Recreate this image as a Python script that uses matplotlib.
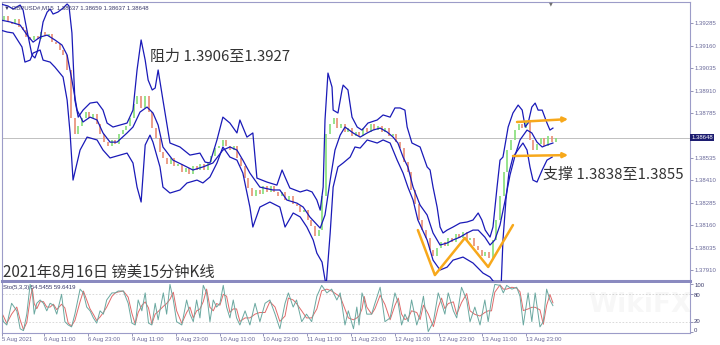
import numpy as np
import pandas as pd
import matplotlib
matplotlib.use("Agg")
import matplotlib.pyplot as plt

# GBPUSD M15 screenshot
# time unit: hours from the left edge of the chart

# one close per hour (candles drawn from previous close to close)
closes = [
    1.39302, 1.39324, 1.39291, 1.39280, 1.39307, 1.39263, 1.39246, 1.39207, 1.39191, 1.39213,
    1.39196, 1.39235, 1.39213, 1.39224, 1.39179, 1.39168, 1.39135, 1.39107, 1.39024, 1.38757,
    1.38668, 1.38712, 1.38757, 1.38790, 1.38757, 1.38779, 1.38724, 1.38668, 1.38623, 1.38601,
    1.38635, 1.38612, 1.38668, 1.38690, 1.38712, 1.38757, 1.38835, 1.38879, 1.38813, 1.38879,
    1.38790, 1.38701, 1.38646, 1.38568, 1.38535, 1.38501, 1.38535, 1.38490, 1.38501, 1.38457,
    1.38479, 1.38446, 1.38490, 1.38468, 1.38501, 1.38468, 1.38512, 1.38546, 1.38590, 1.38601,
    1.38635, 1.38601, 1.38579, 1.38601, 1.38535, 1.38490, 1.38423, 1.38368, 1.38323, 1.38357,
    1.38334, 1.38379, 1.38345, 1.38379, 1.38345, 1.38323, 1.38345, 1.38301, 1.38323, 1.38279,
    1.38268, 1.38234, 1.38245, 1.38190, 1.38156, 1.38101, 1.38134, 1.38323, 1.38668, 1.38724,
    1.38757, 1.38701, 1.38724, 1.38679, 1.38701, 1.38657, 1.38679, 1.38657, 1.38701, 1.38679,
    1.38724, 1.38690, 1.38712, 1.38679, 1.38701, 1.38657, 1.38668, 1.38623, 1.38590, 1.38512,
    1.38457, 1.38357, 1.38279, 1.38190, 1.38134, 1.38090, 1.38023, 1.37990, 1.38034, 1.38067,
    1.38045, 1.38090, 1.38067, 1.38112, 1.38090, 1.38123, 1.38079, 1.38090, 1.38045, 1.38023,
    1.37990, 1.38012, 1.37979, 1.38079, 1.38190, 1.38323, 1.38457, 1.38579, 1.38635, 1.38690,
    1.38724, 1.38701, 1.38735, 1.38635, 1.38579, 1.38612, 1.38646, 1.38601, 1.38657, 1.38623,
    1.38648,
]

# Bollinger bands (hour, price)
upper_band = [
    (0, 1.39391), (2.0, 1.39380), (3.4, 1.39363), (5.3, 1.39385), (6.1, 1.39357), (6.6, 1.39302),
    (7.4, 1.39218), (8.5, 1.39107), (9.3, 1.39091), (9.9, 1.39124), (10.7, 1.39191), (11.5, 1.39291),
    (12.6, 1.39346), (13.4, 1.39363), (14.2, 1.39335), (15.5, 1.39346), (16.9, 1.39368), (18.0, 1.39391),
    (18.5, 1.39380), (19.3, 1.39230), (20.1, 1.38857), (21.0, 1.38762), (22.3, 1.38801), (24.2, 1.38840),
    (26.1, 1.38846), (27.7, 1.38801), (28.8, 1.38729), (30.4, 1.38707), (32.3, 1.38718), (34.2, 1.38729),
    (35.8, 1.38801), (36.9, 1.39024), (38.0, 1.39191), (39.1, 1.39079), (39.9, 1.38968), (41.0, 1.38913),
    (41.8, 1.38924), (42.6, 1.39024), (43.9, 1.38857), (45.8, 1.38618), (48.5, 1.38596), (51.2, 1.38551),
    (53.9, 1.38562), (55.3, 1.38512), (56.6, 1.38507), (58.5, 1.38635), (60.1, 1.38762), (62.0, 1.38729),
    (63.9, 1.38674), (64.7, 1.38746), (66.6, 1.38651), (68.2, 1.38674), (69.3, 1.38423), (72.0, 1.38401),
    (74.7, 1.38384), (76.1, 1.38468), (76.9, 1.38429), (78.2, 1.38368), (81.0, 1.38346), (82.8, 1.38357),
    (84.2, 1.38346), (85.5, 1.38301), (86.4, 1.38245), (87.2, 1.38373), (87.7, 1.38746), (88.5, 1.39007),
    (89.6, 1.38929), (89.9, 1.38801), (91.2, 1.38785), (92.3, 1.38913), (92.6, 1.38940), (93.9, 1.38913),
    (95.0, 1.38762), (96.4, 1.38707), (97.7, 1.38690), (99.3, 1.38729), (101.8, 1.38746), (103.4, 1.38774),
    (105.3, 1.38762), (106.6, 1.38813), (108.0, 1.38813), (109.3, 1.38801), (109.9, 1.38707), (111.2, 1.38618),
    (113.4, 1.38596), (115.3, 1.38485), (116.1, 1.38468), (116.9, 1.38373), (118.0, 1.38262), (118.8, 1.38151),
    (119.6, 1.38118), (120.7, 1.38134), (122.3, 1.38151), (124.2, 1.38173), (126.1, 1.38179), (127.7, 1.38190),
    (129.1, 1.38229), (130.1, 1.38190), (131.0, 1.38134), (132.3, 1.38095), (133.1, 1.38151), (134.2, 1.38373),
    (135.0, 1.38523), (135.8, 1.38540), (137.2, 1.38707), (138.5, 1.38785), (139.9, 1.38829), (141.0, 1.38801),
    (141.8, 1.38707), (142.6, 1.38729), (143.6, 1.38818), (144.5, 1.38840), (145.3, 1.38801), (146.4, 1.38801),
    (147.7, 1.38729), (148.5, 1.38690), (149.3, 1.38701),
]

mid_line = [
    (0, 1.39302), (2.6, 1.39291), (5.3, 1.39274), (7.2, 1.39218), (8.8, 1.39179), (10.7, 1.39207),
    (12.6, 1.39218), (14.7, 1.39191), (16.6, 1.39163), (18.0, 1.39107), (19.3, 1.38968), (20.7, 1.38801),
    (22.3, 1.38735), (24.2, 1.38762), (26.1, 1.38746), (27.7, 1.38674), (29.6, 1.38623), (31.5, 1.38623),
    (34.2, 1.38674), (35.8, 1.38707), (37.7, 1.38790), (39.6, 1.38818), (41.2, 1.38785), (42.6, 1.38718),
    (43.9, 1.38596), (46.6, 1.38523), (49.3, 1.38496), (52.0, 1.38468), (54.7, 1.38485), (57.4, 1.38507),
    (60.1, 1.38579), (62.0, 1.38596), (63.9, 1.38579), (65.5, 1.38523), (67.4, 1.38451), (70.1, 1.38373),
    (73.6, 1.38357), (75.5, 1.38357), (77.4, 1.38301), (80.1, 1.38284), (81.8, 1.38262), (83.6, 1.38207),
    (86.4, 1.38145), (87.7, 1.38218), (89.1, 1.38412), (90.4, 1.38579), (91.8, 1.38662), (93.1, 1.38707),
    (95.3, 1.38674), (97.2, 1.38651), (99.1, 1.38674), (100.7, 1.38690), (102.6, 1.38701), (104.5, 1.38679),
    (106.1, 1.38651), (107.4, 1.38618), (108.8, 1.38540), (110.1, 1.38485), (111.5, 1.38373), (113.4, 1.38273),
    (115.3, 1.38218), (116.9, 1.38118), (118.8, 1.38051), (120.7, 1.38062), (122.3, 1.38079), (124.2, 1.38095),
    (126.1, 1.38118), (127.7, 1.38134), (129.1, 1.38134), (130.9, 1.38095), (132.3, 1.38051), (133.6, 1.38079),
    (135.0, 1.38162), (136.4, 1.38301), (137.7, 1.38440), (139.1, 1.38551), (140.4, 1.38635), (142.3, 1.38690),
    (143.6, 1.38674), (145.0, 1.38623), (146.4, 1.38596), (147.7, 1.38607), (149.3, 1.38618),
]

lower_band = [
    (0, 1.39246), (1.8, 1.39235), (3.4, 1.39230), (5.8, 1.39152), (6.6, 1.39068), (8.0, 1.39079),
    (8.8, 1.39118), (10.7, 1.39135), (11.5, 1.39079), (13.4, 1.39068), (14.7, 1.39040), (16.9, 1.38985),
    (18.0, 1.38857), (18.8, 1.38674), (19.6, 1.38412), (21.5, 1.38579), (23.4, 1.38651), (26.1, 1.38635),
    (27.7, 1.38579), (29.6, 1.38535), (32.3, 1.38551), (34.2, 1.38562), (35.8, 1.38507), (36.9, 1.38373),
    (38.0, 1.38290), (39.1, 1.38607), (40.4, 1.38662), (41.2, 1.38623), (43.1, 1.38485), (43.9, 1.38373),
    (45.8, 1.38340), (48.5, 1.38357), (50.4, 1.38396), (53.1, 1.38412), (54.7, 1.38396), (56.6, 1.38429),
    (58.5, 1.38507), (60.1, 1.38596), (62.0, 1.38540), (63.9, 1.38523), (65.5, 1.38451), (67.4, 1.38262),
    (68.2, 1.38151), (70.1, 1.38262), (72.8, 1.38290), (75.5, 1.38262), (76.9, 1.38151), (79.1, 1.38229),
    (81.0, 1.38207), (82.8, 1.38151), (84.5, 1.38079), (85.5, 1.38006), (86.9, 1.37956), (88.0, 1.37823),
    (89.1, 1.38118), (89.9, 1.38373), (91.2, 1.38485), (92.6, 1.38507), (94.5, 1.38540), (95.8, 1.38596),
    (97.2, 1.38590), (99.1, 1.38635), (101.8, 1.38618), (103.4, 1.38635), (105.3, 1.38618), (107.2, 1.38523),
    (108.8, 1.38451), (110.1, 1.38373), (111.5, 1.38301), (112.8, 1.38190), (115.3, 1.38079), (116.9, 1.37967),
    (118.8, 1.37912), (120.7, 1.37928), (122.3, 1.37967), (125.0, 1.37984), (127.7, 1.37951), (130.4, 1.37895),
    (132.3, 1.37873), (134.2, 1.37823), (135.3, 1.37823), (135.8, 1.38079), (136.6, 1.38301), (137.4, 1.38451),
    (138.5, 1.38540), (140.4, 1.38596), (141.2, 1.38618), (142.3, 1.38579), (143.1, 1.38485), (143.9, 1.38412),
    (145.0, 1.38401), (146.4, 1.38468), (147.7, 1.38523), (149.1, 1.38540),
]

# Stochastic %K (hour, value)
stoch_k = [
    (0, 44), (0.8, 21), (1.7, 14), (3.0, 60), (4.4, 44), (5.3, 6), (6.2, 2), (7.1, 37), (8.0, 100),
    (8.6, 82), (9.1, 37), (9.8, 60), (10.7, 67), (11.6, 60), (12.5, 44), (13.4, 60), (14.3, 56),
    (15.2, 37), (16.5, 79), (17.4, 21), (18.3, 14), (19.2, 10), (20.1, 37), (21.5, 90), (22.4, 82),
    (23.3, 52), (24.2, 44), (25.1, 29), (26.0, 18), (26.9, 44), (27.8, 37), (28.7, 67), (30.1, 82),
    (31.0, 82), (31.8, 86), (33.2, 86), (34.5, 60), (35.5, 18), (36.4, 14), (37.2, 67), (38.2, 44),
    (39.1, 82), (40.0, 18), (40.9, 14), (41.8, 60), (42.6, 25), (44.0, 82), (44.9, 37), (45.8, 100),
    (46.7, 67), (47.6, 21), (49.0, 14), (50.3, 67), (51.2, 37), (52.1, 21), (53.0, 67), (53.9, 29),
    (54.8, 98), (55.7, 82), (56.6, 21), (57.5, 67), (58.4, 52), (59.3, 60), (60.2, 98), (61.1, 52),
    (62.0, 29), (62.9, 67), (63.8, 29), (64.7, 14), (66.1, 44), (67.4, 14), (68.8, 60), (70.1, 21),
    (71.5, 60), (72.8, 67), (74.2, 37), (75.5, 6), (76.9, 60), (77.8, 82), (79.1, 52), (80.0, 67),
    (81.4, 21), (82.7, 37), (84.1, 21), (85.5, 75), (86.8, 98), (88.2, 82), (89.5, 90), (90.9, 67),
    (91.8, 82), (93.1, 14), (94.0, 44), (95.4, 6), (96.3, 52), (96.9, 14), (97.7, 82), (98.3, 67),
    (99.0, 37), (100.3, 37), (101.2, 60), (102.6, 94), (103.9, 21), (105.3, 29), (106.6, 82), (107.5, 60),
    (108.4, 14), (109.3, 37), (110.2, 21), (111.1, 67), (112.5, 14), (113.4, 37), (114.3, 75), (115.6, 0),
    (117.0, 21), (118.3, 82), (119.2, 60), (120.1, 37), (121.0, 82), (122.4, 44), (123.3, 29), (124.6, 94),
    (126.0, 67), (126.9, 21), (128.2, 52), (129.6, 14), (130.9, 67), (131.8, 21), (132.7, 67), (133.6, 100),
    (135.0, 98), (135.9, 82), (136.8, 98), (138.2, 90), (139.5, 94), (140.4, 75), (141.3, 14), (142.6, 82),
    (143.6, 21), (144.5, 82), (145.8, 10), (146.7, 21), (147.6, 90), (148.5, 67), (149.3, 55),
]

# hand drawn orange lines
w_pattern = [(112.8, 1.38134), (117.4, 1.37884), (125.5, 1.38090), (131.8, 1.37929), (138.5, 1.38162)]
resist_arrow = [(139.6, 1.38735), (153.4, 1.38751)]
support_arrow = [(138.5, 1.38546), (153.4, 1.38551)]

price_ticks = [1.37910, 1.38035, 1.38160, 1.38285, 1.38410, 1.38535,
               1.38785, 1.38910, 1.39035, 1.39160, 1.39285]
last_price = 1.38648
time_ticks = [0.4, 11.8, 23.6, 35.5, 47.3, 59.2, 71.0, 82.8, 94.7, 106.5, 118.4, 130.2, 142.0]
time_labels = ["5 Aug 2021", "6 Aug 11:00", "6 Aug 23:00", "9 Aug 11:00", "9 Aug 23:00",
               "10 Aug 11:00", "10 Aug 23:00", "11 Aug 11:00", "11 Aug 23:00", "12 Aug 11:00",
               "12 Aug 23:00", "13 Aug 11:00", "13 Aug 23:00"]
stoch_ticks = [0, 20, 80, 100]
stoch_levels = [20, 80]

small = dict(family=["Liberation Sans", "DejaVu Sans"], fontsize=4.3, color="#3a3a6a")
cjk = ["Noto Sans CJK SC", "DejaVu Sans"]
band_col = "#1a1ab8"
frame_col = "#9c9cc8"
orange = "#f7a81b"

fig = plt.figure(figsize=(7.2, 3.45), dpi=100)
ax = fig.add_axes([2 / 720, 1 - 281 / 345, 688 / 720, 279 / 345])
sub = fig.add_axes([2 / 720, 1 - 333 / 345, 688 / 720, 50 / 345])

# candles
c = np.array(closes)
t = np.arange(len(c))
o = np.r_[c[0], c[:-1]]
up = c >= o
ax.vlines(t[up], o[up], c[up], color="#85de78", lw=1.2, zorder=2)
ax.vlines(t[~up], o[~up], c[~up], color="#e98d74", lw=1.2, zorder=2)

for band in (upper_band, mid_line, lower_band):
    bx, by = zip(*band)
    ax.plot(bx, by, color=band_col, lw=0.9, zorder=3)

ax.axhline(last_price, color="#c0c0c0", lw=0.7, zorder=1)

wx, wy = zip(*w_pattern)
ax.plot(wx, wy, color=orange, lw=1.8, solid_capstyle="round", zorder=4)
for arr in (resist_arrow, support_arrow):
    ax.annotate("", xy=arr[1], xytext=arr[0],
                arrowprops=dict(arrowstyle="-|>", color=orange, lw=1.8, mutation_scale=7,
                                shrinkA=0, shrinkB=0), zorder=4)

ax.text(40.4, 1.39096, "阻力 1.3906至1.3927", family=cjk, fontsize=10.8, color="#333333",
        va="center", ha="left")
ax.text(146.6, 1.38440, "支撑 1.3838至1.3855", family=cjk, fontsize=10.8, color="#333333",
        va="center", ha="left")
ax.text(0.0015, 0.03, "2021年8月16日 镑美15分钟K线", transform=ax.transAxes, family=cjk,
        fontsize=11, color="#333333", va="center", ha="left")
ax.text(0.003, 0.978, "\u25BC GBPUSD#,M15  1.38637 1.38659 1.38637 1.38648",
        transform=ax.transAxes, va="center", ha="left", **small)
ax.text(0.798, 0.995, "\u25BC", transform=ax.transAxes, va="center", ha="center",
        family="DejaVu Sans", fontsize=3.5, color="#707070")

ax.set_xlim(0.4, 186.35)
ax.set_ylim(1.37851, 1.39402)
ax.set_xticks([])
ax.yaxis.tick_right()
ax.set_yticks(price_ticks)
ax.set_yticklabels([f"{p:.5f}" for p in price_ticks], **small)
ax.tick_params(axis="y", length=2, width=0.5, pad=1.5, colors="#6a6a9a")
ax.text(1.002, last_price, f"{last_price:.5f}", transform=ax.get_yaxis_transform(),
        ha="left", va="center", family=["Liberation Sans", "DejaVu Sans"], fontsize=4.3,
        color="white", bbox=dict(boxstyle="square,pad=0.15", fc="#1c1c70", ec="none"))
for s in ax.spines.values():
    s.set_color(frame_col)
    s.set_linewidth(0.8)
ax.spines["bottom"].set_linewidth(2.2)
ax.spines["bottom"].set_color("#8a8ac0")

# stochastic panel
kx, ky = zip(*stoch_k)
kd = pd.Series(ky).rolling(2, min_periods=1).mean()
for lv in stoch_levels:
    sub.axhline(lv, color="#d4d4d4", lw=0.6, ls=(0, (2, 2)), zorder=1)
sub.plot(kx, kd, color="#e06a6a", lw=0.7, zorder=2)
sub.plot(kx, ky, color="#6aa8a0", lw=0.7, zorder=3)
sub.set_xlim(0.4, 186.35)
sub.set_ylim(-3, 103)
sub.yaxis.tick_right()
sub.set_yticks(stoch_ticks)
sub.set_yticklabels([])
sub.tick_params(axis="y", length=2, width=0.5, colors="#6a6a9a")
# MT4 pushes the edge labels inside the panel so they do not collide
for v, pos, va in zip(stoch_ticks, [-3, 22, 77, 103], ["bottom", "center", "center", "top"]):
    sub.text(1.006, pos, str(v), transform=sub.get_yaxis_transform(), ha="left", va=va, **small)
sub.set_xticks(time_ticks)
sub.set_xticklabels(time_labels, ha="left", **small)
sub.tick_params(axis="x", length=2, width=0.5, pad=1.2, colors="#6a6a9a")
sub.text(0.002, 0.9, "Sto(5,3,3) 54.5455 59.6419", transform=sub.transAxes,
         va="center", ha="left", **small)
for s in sub.spines.values():
    s.set_color(frame_col)
    s.set_linewidth(0.8)
sub.spines["top"].set_visible(False)

# faint watermark, kept inside the plotting area
fig.text(640 / 720, 1 - 305 / 345, "WikiFX", fontsize=19, color="#000000", alpha=0.03,
         ha="center", va="center", weight="bold", family="DejaVu Sans")

fig.savefig("out.png", dpi=100, facecolor="white")
